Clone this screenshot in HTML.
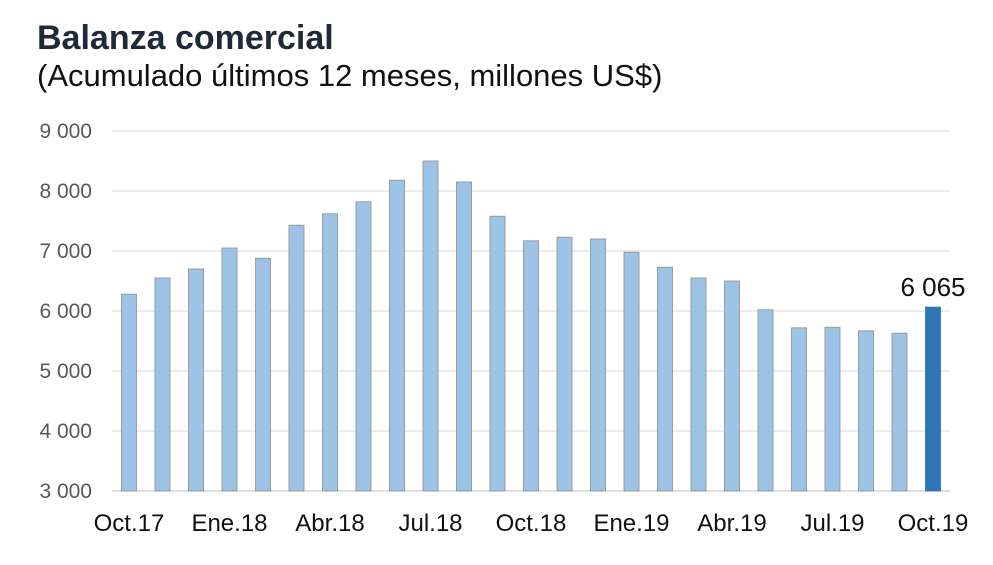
<!DOCTYPE html>
<html><head><meta charset="utf-8"><style>
body{margin:0;background:#fff;font-family:"Liberation Sans",Arial,sans-serif}
svg text{font-family:"Liberation Sans",Arial,sans-serif}
</style></head><body>
<svg width="993" height="560">
<text x="37" y="49" font-size="34" font-weight="bold" fill="#1f2a38">Balanza comercial</text>
<text x="37" y="86" font-size="31" fill="#111">(Acumulado últimos 12 meses, millones US$)</text>
<g id="grid"></g><g id="bars"></g><g id="labels"></g>
</svg>
<script>
const categories=["Oct.17","","","Ene.18","","","Abr.18","","","Jul.18","","","Oct.18","","","Ene.19","","","Abr.19","","","Jul.19","","","Oct.19"];
const values=[6280,6550,6700,7050,6880,7430,7620,7820,8180,8500,8150,7580,7170,7230,7200,6980,6730,6550,6500,6020,5720,5730,5670,5630,6065];
const yTicks=[3000,4000,5000,6000,7000,8000,9000];
const tickLabels=["3 000","4 000","5 000","6 000","7 000","8 000","9 000"];
const NS="http://www.w3.org/2000/svg";
const y=v=>491-(v-3000)*0.06;
const x=i=>129+i*33.5;
function mk(t,a,p){const e=document.createElementNS(NS,t);for(const k in a)e.setAttribute(k,a[k]);p.appendChild(e);return e;}
const g=document.getElementById('grid'),b=document.getElementById('bars'),l=document.getElementById('labels');
yTicks.forEach((v,i)=>{
 const ln=mk('line',{x1:112,x2:950,y1:y(v),y2:y(v),stroke:i==0?'#bfbfbf':'#d9d9d9','stroke-width':1},g);
 
 
 const t=mk('text',{x:92,y:y(v)+7,'font-size':21,fill:'#595959','text-anchor':'end'},l);
 t.textContent=tickLabels[i];
 
 
});
values.forEach((v,i)=>{
 const last=i==values.length-1;
 const r=mk('rect',{x:x(i)-7.5,y:y(v),width:15,height:491-y(v),fill:last?'#2e75b6':'#9dc3e6',stroke:last?'#2e75b6':'#8c8c8c','stroke-width':0.8},b);
 
 
 if(categories[i]){
  const t=mk('text',{x:x(i),y:531,'font-size':24,fill:'#111','text-anchor':'middle'},l);
  t.textContent=categories[i];
  
  
 }
 if(last){
  const t=mk('text',{x:x(i),y:y(v)-11,'font-size':26,fill:'#111','text-anchor':'middle'},l);
  t.textContent=String(v).replace(/(\d)(\d{3})$/,'$1 $2');
  
  
 }
});
</script>
</body></html>
